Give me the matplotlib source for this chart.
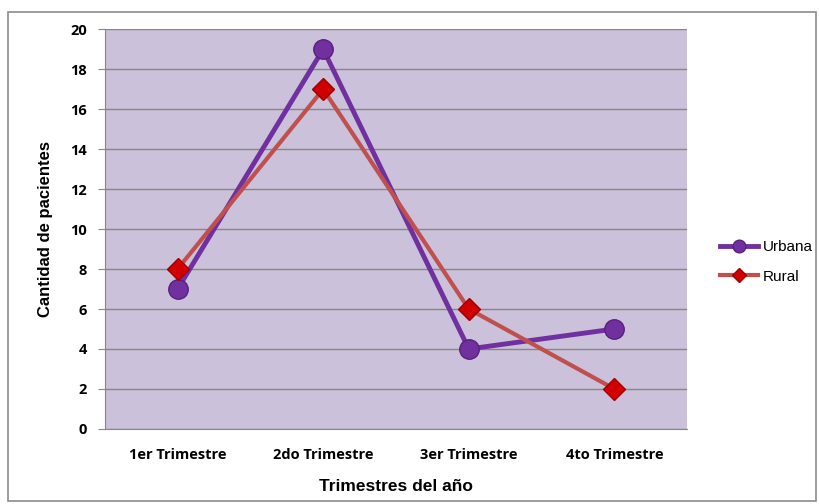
import matplotlib.pyplot as plt
from matplotlib.patches import Rectangle
import numpy as np

# Data
trimestres = ["1er Trimestre", "2do Trimestre", "3er Trimestre", "4to Trimestre"]
urbana = [7, 19, 4, 5]
rural = [8, 17, 6, 2]
y_ticks = [0, 2, 4, 6, 8, 10, 12, 14, 16, 18, 20]

fig = plt.figure(figsize=(8.19, 5.04), dpi=100)
ax = fig.add_axes([0.128, 0.149, 0.711, 0.793])

# outer chart border
fig.patches.append(Rectangle((0.010, 0.006), 0.986, 0.970, transform=fig.transFigure,
                             fill=False, edgecolor="#8c8c8c", linewidth=1.2))

ax.set_facecolor("#ccc1da")
x = np.arange(len(trimestres))

ax.plot(x, urbana, color="#7030a0", linewidth=3.5, marker="o", markersize=14,
        markerfacecolor="#7030a0", markeredgecolor="#5a2080", label="Urbana", zorder=3)
ax.plot(x, rural, color="#c0504d", linewidth=3, marker="D", markersize=11,
        markerfacecolor="#d00000", markeredgecolor="#a00000", label="Rural", zorder=4)

ax.set_xlim(-0.5, len(trimestres) - 0.5)
ax.set_ylim(0, 20)
ax.set_yticks(y_ticks)
ax.set_xticks(x)
ax.set_xticklabels(trimestres, fontfamily="Open Sans", fontweight="bold", fontsize=10.5)
for lbl in ax.get_yticklabels():
    lbl.set_fontfamily("Open Sans")
    lbl.set_fontweight("bold")
    lbl.set_fontsize(10.5)

ax.grid(True, axis="y", color="#868686", linewidth=1, zorder=1)
ax.set_axisbelow(True)
ax.tick_params(axis="y", length=5, color="#868686", pad=8)
ax.tick_params(axis="x", length=0, pad=14)
for side in ["top", "right"]:
    ax.spines[side].set_visible(False)
ax.spines["left"].set_color("#868686")
ax.spines["bottom"].set_color("#868686")

ax.set_xlabel("Trimestres del año", fontfamily="Liberation Sans", fontweight="bold",
              fontsize=12.5, labelpad=12)
ax.set_ylabel("Cantidad de pacientes", fontfamily="Liberation Sans", fontweight="bold",
              fontsize=12, labelpad=12)

fig.legend(loc="center left", bbox_to_anchor=(0.862, 0.48), frameon=False,
           prop={"family": "Liberation Sans", "size": 11}, handlelength=2.5,
           labelspacing=1.0, markerscale=0.65, handletextpad=0.3)

fig.savefig("out.png", dpi=100)
